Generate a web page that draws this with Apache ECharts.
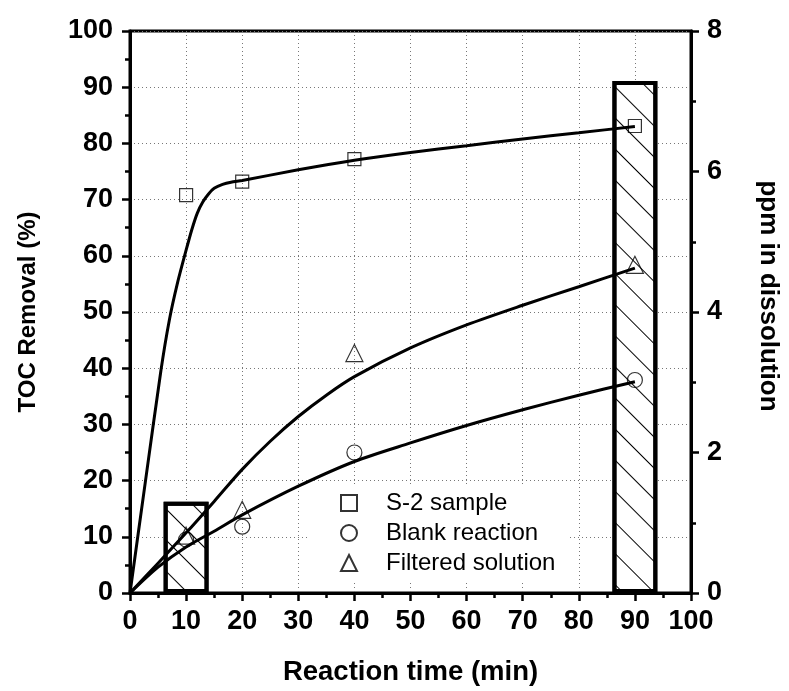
<!DOCTYPE html>
<html>
<head>
<meta charset="utf-8">
<script src="https://cdn.jsdelivr.net/npm/echarts@6/dist/echarts.min.js"></script>
<style>
  html, body { margin: 0; padding: 0; background: #fff; }
  #chart { width: 789px; height: 691px; }
</style>
</head>
<body>
<div id="chart"></div>
<script>
// ---- data ----
const xTicks = [0, 10, 20, 30, 40, 50, 60, 70, 80, 90, 100];
const sampleTimes = [10, 20, 40, 90];
const s2Sample = [70.8, 73.2, 77.2, 83.1];
const blankReaction = [9.5, 11.8, 25.0, 37.9];
const filteredSolution = [10.2, 14.8, 42.7, 58.4];

// dissolution bars (ppm, right axis)
const barTimes = [10, 90];
const barPpm = [1.30, 7.29];

// fitted curves (time, value)
const s2Curve = [[0,0],[2.7,19.5],[5.5,39.5],[7,48.5],[8.5,55.3],[10,61],[11,64.6],[12,67.6],[13,69.6],[14,71],[15,72],[16.5,72.7],[18,73.1],[20,73.4],[30,75.3],[40,77],[50,78.4],[60,79.6],[70,80.8],[80,81.9],[90,83]];
const blankCurve = [[0,0],[5,4.6],[10,8.2],[15,11],[20,13.9],[30,19],[40,23.4],[50,26.7],[60,29.8],[70,32.6],[80,35.2],[90,37.6]];
const filteredCurve = [[0,0],[5,5.3],[10,10.7],[15,16.3],[20,22],[25,27],[30,31.4],[35,35.2],[40,38.5],[50,43.6],[60,47.7],[70,51.2],[80,54.5],[90,57.8]];

const FONT = '"Liberation Sans", Arial, sans-serif';
const chart = echarts.init(document.getElementById('chart'), null, { renderer: 'canvas' });

const lineStyle = { color: '#000', width: 3 };
const markerStyle = { color: 'rgba(255,255,255,0)', borderColor: '#000', borderWidth: 1.2 };

const option = {
  animation: false,
  backgroundColor: '#fff',
  textStyle: { fontFamily: FONT },
  grid: { left: 130, right: 98, top: 31, bottom: 98, show: true, borderColor: '#000', borderWidth: 3, backgroundColor: 'transparent' },
  legend: {
    orient: 'vertical',
    left: 310, top: 485,
    padding: [6, 12, 6, 30],
    backgroundColor: '#fff',
    itemWidth: 16, itemHeight: 16, itemGap: 6,
    symbolKeepAspect: true,
    data: ['S-2 sample', 'Blank reaction', 'Filtered solution'],
    textStyle: { fontFamily: FONT, fontSize: 24, color: '#000', padding: [0, 0, 0, 24] }
  },
  xAxis: {
    type: 'value', min: 0, max: 100, interval: 10,
    name: 'Reaction time (min)', nameLocation: 'middle', nameGap: 65,
    nameTextStyle: { fontFamily: FONT, fontSize: 27.5, fontWeight: 'bold', color: '#000' },
    axisLine: { show: true, onZero: false, lineStyle: { color: '#000', width: 3 } },
    axisTick: { show: true, inside: false, length: 8, lineStyle: { color: '#000', width: 2.5 } },
    minorTick: { show: true, splitNumber: 2, length: 5, lineStyle: { color: '#000', width: 2.5 } },
    axisLabel: { margin: 15, fontFamily: FONT, fontSize: 27, fontWeight: 'bold', color: '#000',
      formatter: v => String(xTicks[xTicks.indexOf(v)]) },
    splitLine: { show: true, lineStyle: { color: '#777', width: 1, type: [1, 3] } }
  },
  yAxis: [
    {
      type: 'value', min: 0, max: 100, interval: 10, position: 'left',
      name: 'TOC Removal (%)', nameLocation: 'middle', nameGap: 90,
      nameTextStyle: { fontFamily: FONT, fontSize: 24, fontWeight: 'bold', color: '#000' },
      axisLine: { show: true, onZero: false, lineStyle: { color: '#000', width: 3 } },
      axisTick: { show: true, inside: false, length: 8, lineStyle: { color: '#000', width: 2.5 } },
      minorTick: { show: true, splitNumber: 2, length: 5, lineStyle: { color: '#000', width: 2.5 } },
      axisLabel: { margin: 17, fontFamily: FONT, fontSize: 27, fontWeight: 'bold', color: '#000' },
      splitLine: { show: true, lineStyle: { color: '#777', width: 1, type: [1, 3] } }
    },
    {
      type: 'value', min: 0, max: 8, interval: 2, position: 'right',
      name: 'ppm in dissolution', nameLocation: 'middle', nameGap: 64, nameRotate: -90,
      nameTextStyle: { fontFamily: FONT, fontSize: 26, fontWeight: 'bold', color: '#000', padding: [0, 32, 0, 0] },
      axisLine: { show: true, onZero: false, lineStyle: { color: '#000', width: 3 } },
      axisTick: { show: true, inside: false, length: 8, lineStyle: { color: '#000', width: 2.5 } },
      minorTick: { show: true, splitNumber: 2, length: 5, lineStyle: { color: '#000', width: 2.5 } },
      axisLabel: { margin: 16, fontFamily: FONT, fontSize: 27, fontWeight: 'bold', color: '#000' },
      splitLine: { show: false }
    }
  ],
  series: [
    {
      name: 'ppm', type: 'bar', yAxisIndex: 1, barWidth: 44.9, z: 1,
      data: barTimes.map((t, i) => [t, barPpm[i]]),
      itemStyle: {
        color: '#fff', borderColor: '#000', borderWidth: 4,
        decal: { symbol: 'rect', symbolSize: 1, dashArrayX: [1, 0], dashArrayY: [1, 21], rotation: Math.PI / 4, color: '#000', backgroundColor: null }
      }
    },
    { type: 'line', data: s2Curve, smooth: 0.25, showSymbol: false, lineStyle: lineStyle, z: 4, silent: true },
    { type: 'line', data: blankCurve, smooth: 0.3, showSymbol: false, lineStyle: lineStyle, z: 4, silent: true },
    { type: 'line', data: filteredCurve, smooth: 0.3, showSymbol: false, lineStyle: lineStyle, z: 4, silent: true },
    { name: 'S-2 sample', type: 'scatter', symbol: 'rect', symbolSize: 13, z: 3,
      data: sampleTimes.map((t, i) => [t, s2Sample[i]]), itemStyle: markerStyle },
    { name: 'Blank reaction', type: 'scatter', symbol: 'circle', symbolSize: 15, z: 3,
      data: sampleTimes.map((t, i) => [t, blankReaction[i]]), itemStyle: markerStyle },
    { name: 'Filtered solution', type: 'scatter', symbol: 'triangle', symbolSize: 17, z: 3,
      data: sampleTimes.map((t, i) => [t, filteredSolution[i]]), itemStyle: markerStyle }
  ]
};
chart.setOption(option);
</script>
</body>
</html>
